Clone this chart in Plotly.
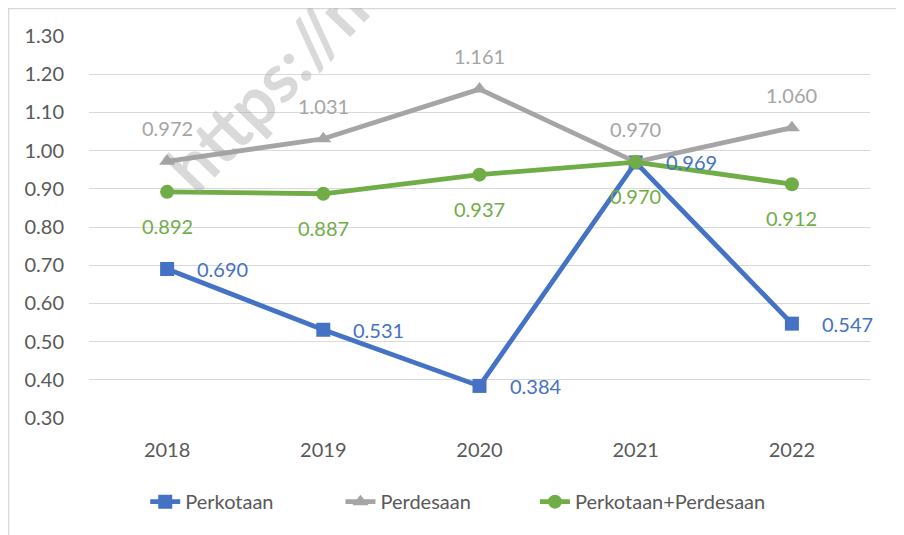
import plotly.graph_objects as go

years = ["2018", "2019", "2020", "2021", "2022"]
perkotaan = [0.690, 0.531, 0.384, 0.969, 0.547]
perdesaan = [0.972, 1.031, 1.161, 0.970, 1.060]
gabungan = [0.892, 0.887, 0.937, 0.970, 0.912]
names = ["Perkotaan", "Perdesaan", "Perkotaan+Perdesaan"]
tick_vals = [0.30, 0.40, 0.50, 0.60, 0.70, 0.80, 0.90, 1.00, 1.10, 1.20, 1.30]

BLUE = "#4472C4"
GREY = "#A5A5A5"
GREEN = "#70AD47"
FONT = "Lato, 'Open Sans', sans-serif"

fig = go.Figure()
fig.add_trace(go.Scatter(x=years, y=perkotaan, name=names[0], mode="lines+markers",
                         line=dict(color=BLUE, width=4.8), legend="legend",
                         marker=dict(symbol="square", size=14, color=BLUE)))
fig.add_trace(go.Scatter(x=years, y=perdesaan, name=names[1], mode="lines+markers",
                         line=dict(color=GREY, width=4.8), legend="legend2",
                         marker=dict(symbol="triangle-up", size=14, color=GREY)))
fig.add_trace(go.Scatter(x=years, y=gabungan, name=names[2], mode="lines+markers",
                         line=dict(color=GREEN, width=4.8), legend="legend3",
                         marker=dict(symbol="circle", size=14, color=GREEN)))

annotations = []
for i, v in enumerate(perkotaan):
    annotations.append(dict(x=i, y=v, text=f"{v:.3f}", showarrow=False, xanchor="left",
                            yanchor="middle", xshift=28, font=dict(color=BLUE, size=20, family=FONT)))
for i, v in enumerate(perdesaan):
    annotations.append(dict(x=i, y=v, text=f"{v:.3f}", showarrow=False, xanchor="center",
                            yanchor="middle", yshift=33, font=dict(color=GREY, size=20, family=FONT)))
for i, v in enumerate(gabungan):
    annotations.append(dict(x=i, y=v, text=f"{v:.3f}", showarrow=False, xanchor="center",
                            yanchor="middle", yshift=-34, font=dict(color=GREEN, size=20, family=FONT)))

# watermark
annotations.append(dict(xref="paper", yref="paper", x=0.235, y=0.885, text="<b>https://m</b>",
                        showarrow=False, textangle=-46, xanchor="center", yanchor="middle",
                        font=dict(size=68, color="rgba(160,160,160,0.4)", family=FONT)))

legend_common = dict(orientation="h", xanchor="left", y=-0.219, yanchor="middle",
                     font=dict(size=20, color="#595959", family=FONT),
                     itemwidth=30, bgcolor="rgba(0,0,0,0)")

fig.update_layout(
    width=896, height=527,
    margin=dict(l=81, r=34, t=28, b=117),
    paper_bgcolor="white", plot_bgcolor="white",
    font=dict(family=FONT, size=20, color="#595959"),
    annotations=annotations,
    showlegend=True,
    legend=dict(x=0.072, **legend_common),
    legend2=dict(x=0.322, **legend_common),
    legend3=dict(x=0.571, **legend_common),
    shapes=[dict(type="rect", xref="paper", yref="paper", x0=-0.103, x1=1.0346,
                 y0=-0.35, y1=1.072, line=dict(color="#D9D9D9", width=1.5), layer="below")],
)
fig.update_xaxes(type="category", range=[-0.5, 4.5], showgrid=False, zeroline=False,
                 showline=False, ticks="", ticklabelstandoff=18,
                 tickfont=dict(size=20, color="#595959"))
fig.update_yaxes(range=[0.30, 1.30], tickvals=tick_vals, ticktext=[f"{t:.2f}" for t in tick_vals],
                 showgrid=True, gridcolor="#D9D9D9", gridwidth=1.2, zeroline=False, showline=False,
                 ticks="", ticklabelstandoff=24, tickfont=dict(size=20, color="#595959"))

fig.write_html("out.html")
